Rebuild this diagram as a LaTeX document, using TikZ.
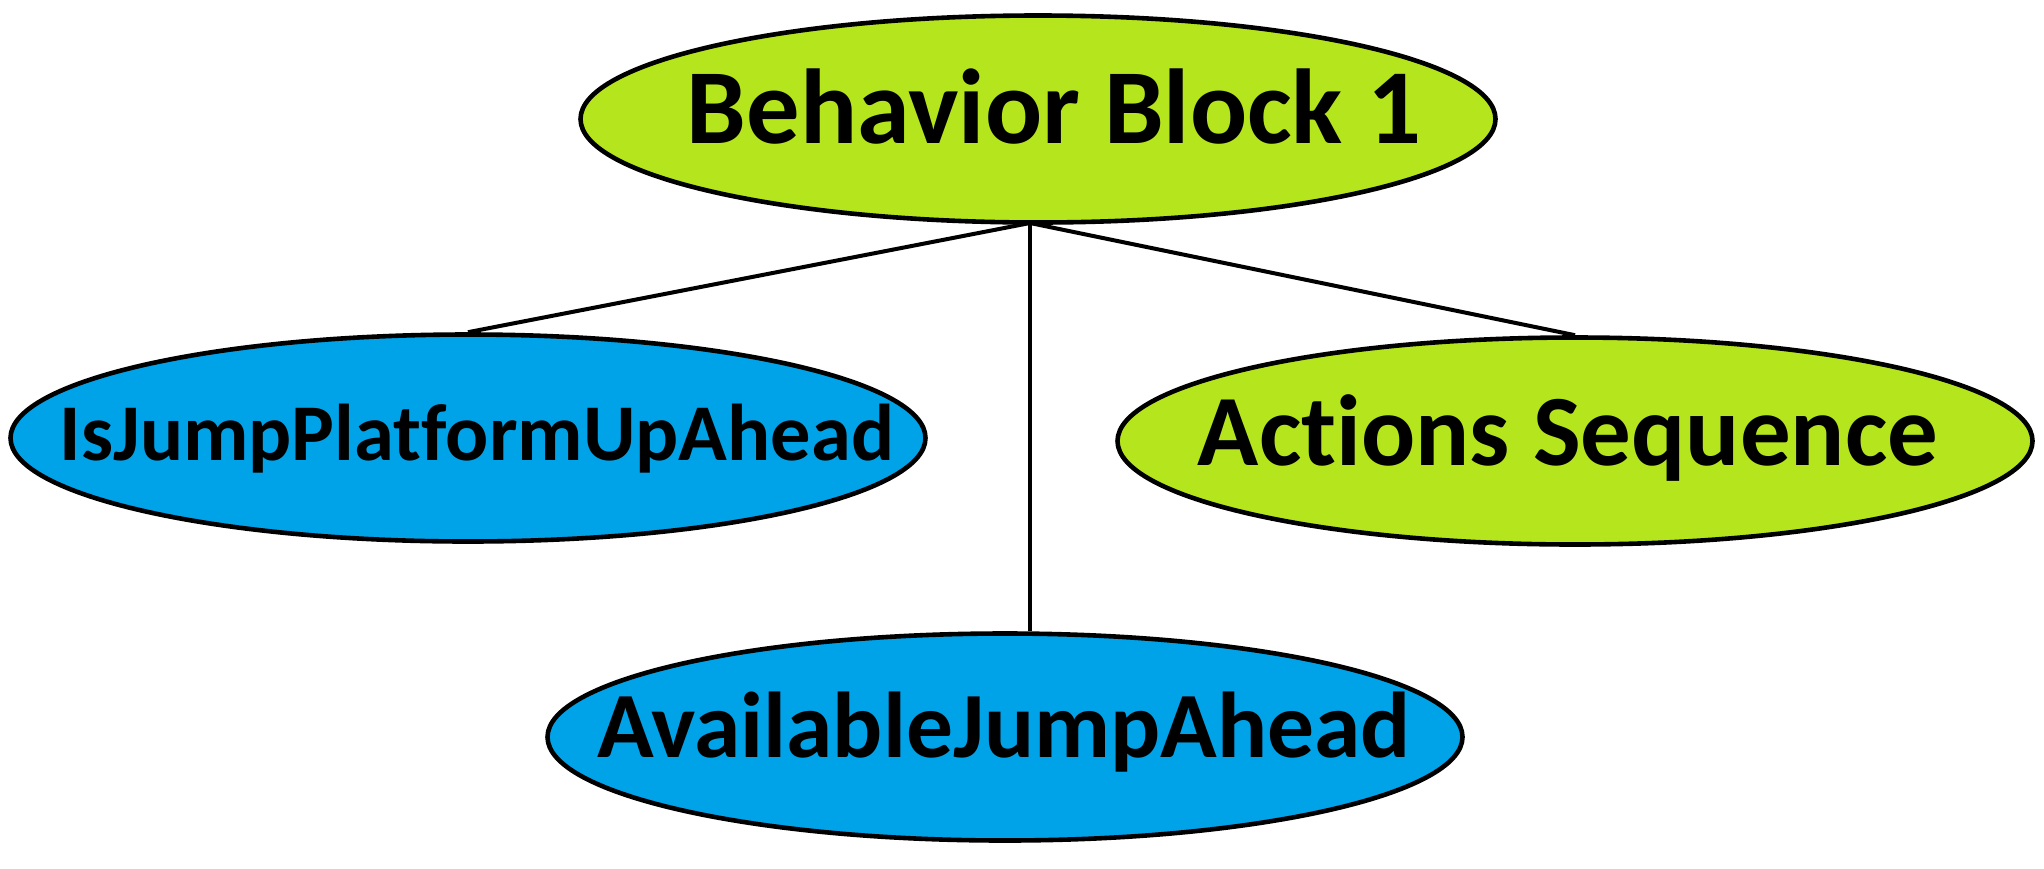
\documentclass[tikz,border=0pt]{standalone}
\usepackage{fontspec}
\setmainfont[Ligatures={NoCommon,NoRequired,NoContextual}]{Carlito}
\usetikzlibrary{shapes.geometric,backgrounds}
\definecolor{lime}{HTML}{B5E61D}
\definecolor{sky}{HTML}{00A2E8}
\tikzset{
  ell/.style={ellipse, draw=black, line width=4.6pt, minimum width=915pt, minimum height=207pt, inner sep=0pt},
  limeell/.style={ell, fill=lime},
  skyell/.style={ell, fill=sky},
  lbl/.style={anchor=base, inner sep=0pt, font=\bfseries},
  conn/.style={draw=black, line width=4pt}
}
\begin{document}
\begin{tikzpicture}[x=1pt,y=-1pt]
\useasboundingbox (0,0) rectangle (2044,868);
\node[limeell] (b) at (1038,119) {};
\node[lbl] (bt) at (1054,143) {\fontsize{106.5}{110}\selectfont Behavior Block 1};
\node[skyell] (ij) at (468,438) {};
\node[lbl] (ijt) at (477,460) {\fontsize{80.5}{84}\selectfont IsJumpPlatformUpAhead};
\node[limeell] (as) at (1575,441) {};
\node[lbl] (ast) at (1568,465) {\fontsize{101}{104}\selectfont Actions Sequence};
\node[skyell] (aj) at (1005,737) {};
\node[lbl] (ajt) at (1004,757) {\fontsize{93.5}{96}\selectfont AvailableJumpAhead};
\coordinate (hub) at (1030,223);
\begin{scope}[on background layer]
\draw[conn] (hub) -- (ij.north);
\draw[conn] (hub) -- (as.north);
\draw[conn] (hub) -- (hub |- aj.north);
\end{scope}
\end{tikzpicture}
\end{document}
